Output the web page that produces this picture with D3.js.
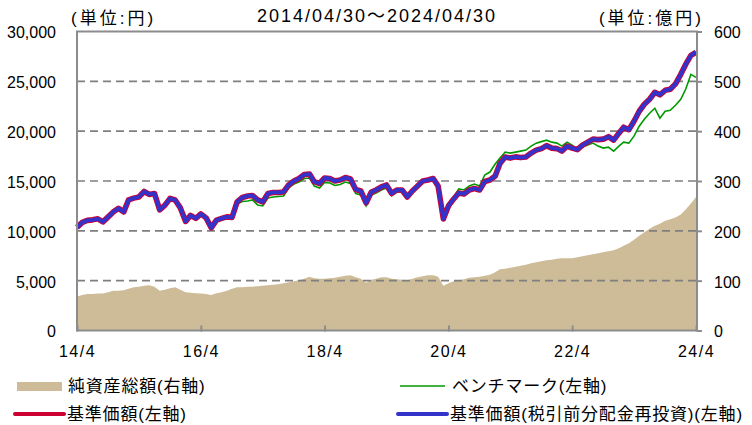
<!DOCTYPE html>
<html>
<head>
<meta charset="utf-8">
<script src="https://cdn.jsdelivr.net/npm/d3@7"></script>
<style>
  body { margin: 0; background: #fff; }
  svg text { font-family: "Liberation Sans", "Noto Sans CJK JP", sans-serif; fill: #000; }
</style>
</head>
<body>
<svg id="chart" width="752" height="425"></svg>
<script>
"use strict";
// month-end values, 2014/04 .. 2024/04
var navValues = [
  10350, 10850, 11050, 11100, 11200, 10900, 11400, 11900, 12250, 11900,
  13100, 13280, 13400, 13950, 13650, 13750, 12100, 12550, 13250, 13090,
  12300, 10950, 11550, 11250, 11700, 11300, 10300, 11080, 11250, 11400,
  11350, 12900, 13350, 13500, 13550, 13100, 12900, 13750, 13850, 13850,
  13900, 14600, 15000, 15250, 15650, 15700, 14930, 14750, 15300, 15250,
  15000, 15100, 15350, 15200, 14150, 14000, 12800, 13900, 14100, 14400,
  14600, 13750, 14100, 14100, 13400, 14000, 14500, 15000, 15100, 15250,
  14500, 11200, 12500, 13200, 13800, 13700, 14100, 14250, 14100, 14950,
  15100, 15500, 16750, 17400, 17300, 17420, 17350, 17400, 17800, 18100,
  18250, 18550, 18300, 18250, 18000, 18500, 18300, 18150, 18600, 18900,
  19200, 19150, 19200, 19450, 19100, 19800, 20400, 20150, 21000, 22000,
  22700, 23200, 23900, 23650, 24100, 24200, 24750, 25700, 26700, 27600,
  27900
];
var reinvestValues = [
  10350, 10850, 11050, 11100, 11200, 10900, 11400, 11900, 12250, 11900,
  13100, 13280, 13400, 13950, 13650, 13750, 12100, 12550, 13250, 13090,
  12300, 10950, 11550, 11250, 11700, 11300, 10300, 11080, 11250, 11400,
  11350, 12900, 13350, 13500, 13550, 13100, 12900, 13750, 13850, 13850,
  13900, 14600, 15000, 15250, 15650, 15700, 14930, 14750, 15300, 15250,
  15000, 15100, 15350, 15200, 14150, 14000, 12800, 13900, 14100, 14400,
  14600, 13750, 14100, 14100, 13400, 14000, 14500, 15000, 15100, 15250,
  14500, 11200, 12500, 13200, 13800, 13700, 14100, 14250, 14100, 14950,
  15100, 15500, 16750, 17400, 17300, 17420, 17350, 17400, 17800, 18100,
  18250, 18550, 18300, 18250, 18000, 18500, 18300, 18150, 18600, 18900,
  19200, 19150, 19200, 19450, 19100, 19800, 20400, 20150, 21000, 22000,
  22700, 23200, 23900, 23650, 24100, 24200, 24750, 25700, 26700, 27600,
  27950
];
var benchValues = [
  10300, 10800, 11000, 11050, 11150, 10850, 11350, 11850, 12200, 11850,
  13050, 13200, 13350, 13900, 13600, 13700, 12000, 12450, 13150, 13000,
  12200, 10850, 11450, 11150, 11600, 11200, 10200, 10980, 11150, 11300,
  11250, 12700, 12950, 13000, 13100, 12600, 12500, 13300, 13400, 13450,
  13500, 14300, 14700, 14900, 15250, 15300, 14500, 14300, 14850, 14800,
  14550, 14650, 14900, 14750, 13750, 13600, 12500, 13600, 13800, 14100,
  14300, 13500, 13900, 13900, 13300, 13900, 14400, 14950, 15100, 15250,
  14500, 11300, 12600, 13400, 14200, 14100, 14500, 14700, 14500, 15600,
  15900, 16700, 17300, 17900, 17800, 17900, 18000, 18100, 18500, 18800,
  18950, 19100, 18900, 18800, 18500, 18900, 18600, 18200, 18400, 18600,
  18800, 18500, 18300, 18400, 18000, 18500, 18900, 18800, 19500, 20500,
  21200, 21800, 22300, 21300, 22000, 22100, 22600, 23200, 24200, 25700,
  25400
];
// 億円
var assetValues = [
   68,  71,  73,  73,  74,  74,  77,  80,  80,  81,
   84,  87,  88,  90,  91,  88,  80,  82,  85,  87,
   82,  77,  76,  75,  74,  73,  71,  75,  77,  80,
   84,  87,  87,  88,  88,  89,  90,  91,  92,  93,
   95,  97,  99, 101, 104, 108, 105, 104, 104, 105,
  106, 108, 110, 111, 107, 104,  96, 102, 104, 107,
  107, 104, 103, 102, 101, 104, 107, 109, 111, 111,
  108,  90,  95,  99, 101, 103, 106, 107, 108, 110,
  112, 117, 123, 124, 126, 128, 130, 132, 135, 137,
  139, 141, 142, 144, 145, 145, 145, 147, 149, 151,
  153, 155, 157, 159, 161, 165, 170, 175, 182, 190,
  197, 204, 210, 214, 220, 223, 227, 233, 243, 255,
  268
];
var leftTicks = [0, 5000, 10000, 15000, 20000, 25000, 30000];
var rightTicks = [0, 100, 200, 300, 400, 500, 600];
var xTickLabels = ["14/4", "16/4", "18/4", "20/4", "22/4", "24/4"];
var titleText = "2014/04/30\uff5e2024/04/30";

var
  margin = {top: 31.5, right: 55, bottom: 94.5, left: 77},
  width = 752 - margin.left - margin.right,
  height = 425 - margin.top - margin.bottom
;

var dates = navValues.map((d, i) => new Date(2014, 4 + i, 0));

var x = d3.scaleTime()
  .domain([new Date(2014, 3, 30), new Date(2024, 3, 30)])
  .range([0, width - 1]);
var yL = d3.scaleLinear().domain([0, 30000]).range([height, 0]);
var yR = d3.scaleLinear().domain([0, 600]).range([height, 0]);

var svg = d3.select("#chart");
var plot = svg.append("g")
  .attr("transform", "translate(" + margin.left + "," + margin.top + ")");

// net assets area
plot.append("path")
  .datum(assetValues)
  .attr("fill", "#cdbc97")
  .attr("d", d3.area()
    .x((d, i) => x(dates[i]))
    .y0(height)
    .y1(d => yR(d)));

// grid
plot.selectAll("line.grid")
  .data(leftTicks.slice(1, -1))
  .join("line")
  .attr("class", "grid")
  .attr("x1", 0).attr("x2", width)
  .attr("y1", d => yL(d)).attr("y2", d => yL(d))
  .attr("stroke", "#7f7f7f")
  .attr("stroke-width", 1.6)
  .attr("stroke-dasharray", "8,5");

// lines
function lineOf(vals) {
  return d3.line()
    .x((d, i) => x(dates[i]))
    .y(d => yL(d))(vals);
}
plot.append("path").attr("d", lineOf(benchValues))
  .attr("fill", "none").attr("stroke", "#009900").attr("stroke-width", 1.6);
plot.append("path").attr("d", lineOf(navValues))
  .attr("fill", "none").attr("stroke", "#cc0033").attr("stroke-width", 5.6)
  .attr("stroke-linejoin", "round");
plot.append("path").attr("d", lineOf(reinvestValues))
  .attr("fill", "none").attr("stroke", "#3333cc").attr("stroke-width", 3.8)
  .attr("stroke-linejoin", "round");

// frame
var frame = "#8c8c8c";
plot.append("rect")
  .attr("x", 0).attr("y", 0)
  .attr("width", width).attr("height", height)
  .attr("fill", "none").attr("stroke", frame).attr("stroke-width", 2);

// x axis
var xTickDates = xTickLabels.map((d, i) => new Date(2014 + i * 2, 3, 30));
var xAxis = d3.axisBottom(x)
  .tickValues(xTickDates)
  .tickFormat((d, i) => xTickLabels[i])
  .tickSizeInner(-5).tickSizeOuter(0).tickPadding(23);
var gx = plot.append("g")
  .attr("transform", "translate(0," + height + ")")
  .call(xAxis);
gx.select(".domain").remove();
gx.selectAll("line").attr("stroke", frame).attr("stroke-width", 2)
  .attr("y2", -5).attr("y1", 1);
gx.selectAll("text").attr("font-size", 16).attr("dy", "0.2em")
  .attr("letter-spacing", 1.5);

// left axis
var gl = plot.append("g")
  .call(d3.axisLeft(yL).tickValues(leftTicks).tickFormat(d3.format(",")).tickSize(0).tickPadding(21));
gl.select(".domain").remove();
gl.selectAll("text").attr("font-size", 16).attr("dy", "0.4em");

// right axis
var gr = plot.append("g")
  .attr("transform", "translate(" + width + ",0)")
  .call(d3.axisRight(yR).tickValues(rightTicks).tickSizeInner(5).tickSizeOuter(0).tickPadding(12));
gr.select(".domain").remove();
gr.selectAll("line").attr("stroke", frame).attr("stroke-width", 2);
gr.selectAll("text").attr("font-size", 16).attr("dy", "0.4em");

// titles
svg.append("text").attr("x", 377).attr("y", 22).attr("text-anchor", "middle")
  .attr("font-size", 18).attr("letter-spacing", 2).text(titleText);
svg.append("text").attr("x", 71).attr("y", 24).attr("font-size", 17)
  .attr("letter-spacing", 3).text("(単位:円)");
svg.append("text").attr("x", 704).attr("y", 24).attr("font-size", 17)
  .attr("letter-spacing", 3).attr("text-anchor", "end").text("(単位:億円)");

// legend
var legend = [
  {label: "純資産総額(右軸)", kind: "area", color: "#cdbc97", x: 17, y: 386},
  {label: "ベンチマーク(左軸)", kind: "thin", color: "#009900", x: 400, y: 386},
  {label: "基準価額(左軸)", kind: "red", color: "#cc0033", x: 15, y: 414},
  {label: "基準価額(税引前分配金再投資)(左軸)", kind: "blue", color: "#3333cc", x: 398, y: 414}
];
var lg = svg.selectAll("g.legend").data(legend).join("g")
  .attr("class", "legend")
  .attr("transform", d => "translate(" + d.x + "," + d.y + ")");
lg.filter(d => d.kind == "area").append("rect")
  .attr("x", 0).attr("y", -4).attr("width", 45).attr("height", 9).attr("fill", d => d.color);
lg.filter(d => d.kind != "area").append("line")
  .attr("x1", 0).attr("x2", d => d.kind == "thin" ? 45 : 49)
  .attr("y1", 0).attr("y2", 0)
  .attr("stroke", d => d.color)
  .attr("stroke-linecap", d => d.kind == "thin" ? "butt" : "round")
  .attr("stroke-width", d => d.kind == "thin" ? 1.6 : 4);
lg.append("text")
  .attr("x", d => d.kind == "area" ? 51 : 52)
  .attr("y", 6)
  .attr("font-size", 17)
  .attr("letter-spacing", 0.8)
  .text(d => d.label);
</script>
</body>
</html>
